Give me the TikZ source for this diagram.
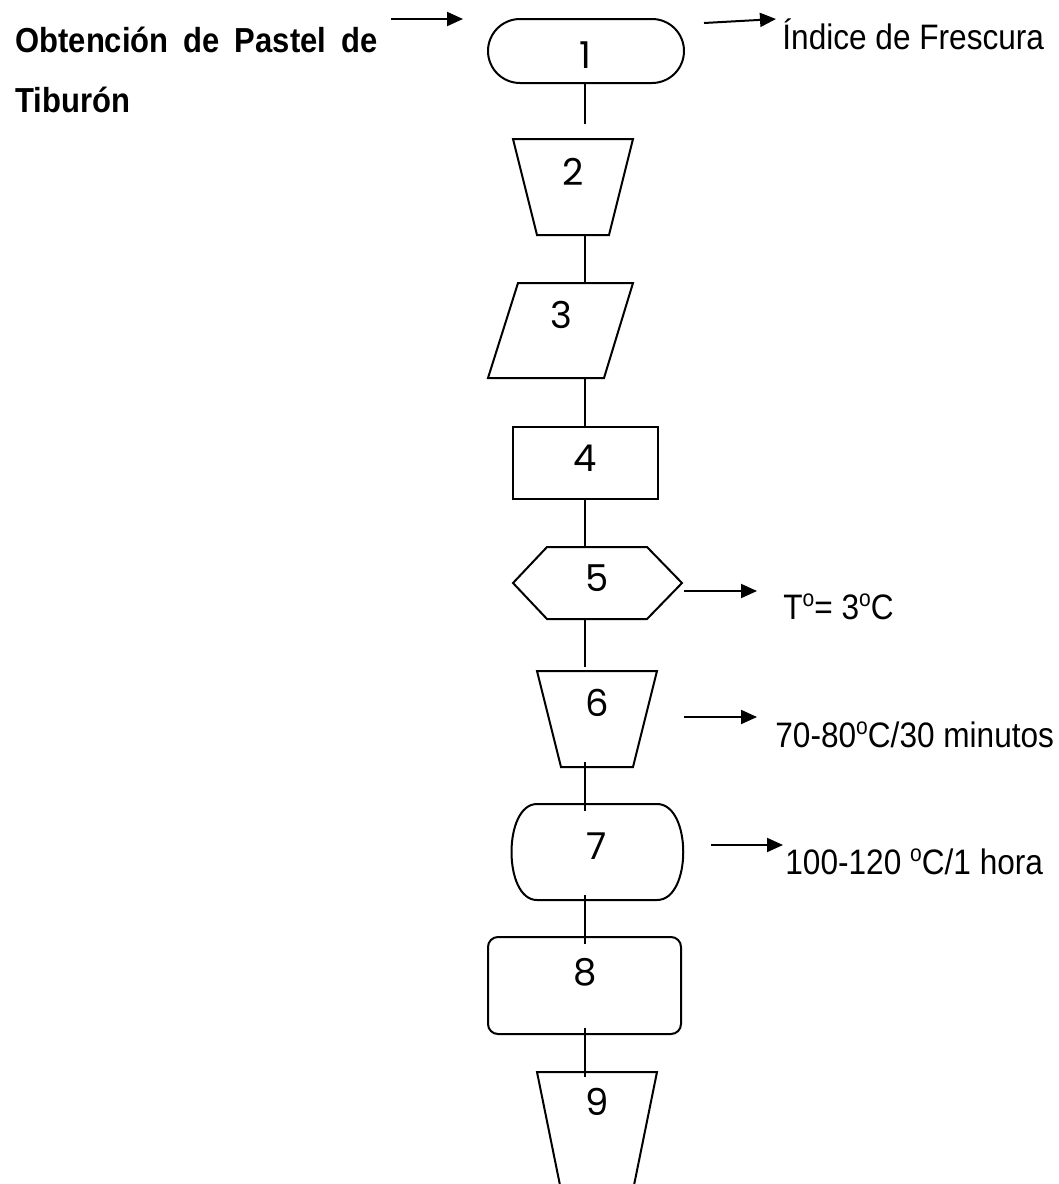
\documentclass[tikz,border=0pt]{standalone}
\usepackage{graphicx}
\usepackage{fontspec}
\setmainfont{Liberation Sans}
\newfontfamily\numfont{Poppins}
\usetikzlibrary{arrows.meta}
\newcommand\ordo{\raisebox{5.6pt}{\fontsize{10.5}{11}\selectfont o}}
\newcommand\vstr[1]{\scalebox{1}[1.12]{#1}}
\begin{document}
\begin{tikzpicture}[x=0.5pt,y=-0.5pt,
  shp/.style={draw=black, line width=1pt, line join=miter},
  conn/.style={draw=black, line width=1pt},
  arr/.style={draw=black, line width=1pt, -{Triangle[length=8pt,width=7pt]}},
  num/.style={font=\numfont\fontsize{18.5}{20}\selectfont, inner sep=0pt},
  lbl/.style={font=\fontsize{15.8}{18}\selectfont, inner sep=0pt, anchor=base west},
  ttl/.style={font=\bfseries\fontsize{15.5}{18}\selectfont, inner sep=0pt, anchor=base west}]
\clip (0,0) rectangle (1059,1184);
\fill[white] (0,0) rectangle (1059,1184);

% title
\node[ttl] (t1) at (15,52) {\vstr{\makebox[181pt][s]{Obtención de Pastel de}}};
\node[ttl] (t2) at (15,112) {\vstr{Tiburón}};

% shapes
\draw[shp, rounded corners=16pt] (488,19) rectangle (684,83);
\draw[shp] (513,139) -- (633,139) -- (609,235) -- (537,235) -- cycle;
\draw[shp] (518,283) -- (633,283) -- (604,378) -- (488,378) -- cycle;
\draw[shp] (513,427) rectangle (658,499);
\draw[shp] (513,583) -- (547,547) -- (647,547) -- (682,583) -- (647,619) -- (547,619) -- cycle;
\draw[shp] (537,671) -- (657,671) -- (633,767) -- (561,767) -- cycle;
\draw[shp] (537,804) -- (657,804) .. controls (692,804) and (692,900) .. (657,900) -- (537,900) .. controls (503,900) and (503,804) .. (537,804) -- cycle;
\draw[shp, rounded corners=5pt] (488,937) rectangle (681,1034);
\draw[shp] (537,1072) -- (657,1072) -- (631,1200) -- (563,1200) -- cycle;

% numbers
\node[num] (n1) at (585,55) {1};
\node[num] (n2) at (573,172) {2};
\node[num] (n3) at (561,315) {3};
\node[num] (n4) at (585,458) {4};
\node[num] (n5) at (597,578) {5};
\node[num] (n6) at (597,703) {6};
\node[num] (n7) at (597,846) {7};
\node[num] (n8) at (585,972) {8};
\node[num] (n9) at (597,1102) {9};

% connector ends
\coordinate (c1b) at (585,83);   \coordinate (c2t) at (585,124);
\coordinate (c2b) at (585,235);  \coordinate (c3t) at (585,283);
\coordinate (c3b) at (585,378);  \coordinate (c4t) at (585,427);
\coordinate (c4b) at (585,499);  \coordinate (c5t) at (585,547);
\coordinate (c5b) at (585,619);  \coordinate (c6t) at (585,667);
\coordinate (c6b) at (585,762);  \coordinate (c7t) at (585,811);
\coordinate (c7b) at (585,895);  \coordinate (c8t) at (585,944);
\coordinate (c8b) at (585,1028); \coordinate (c9t) at (585,1077);
\draw[conn] (c1b) -- (c2t);
\draw[conn] (c2b) -- (c3t);
\draw[conn] (c3b) -- (c4t);
\draw[conn] (c4b) -- (c5t);
\draw[conn] (c5b) -- (c6t);
\draw[conn] (c6b) -- (c7t);
\draw[conn] (c7b) -- (c8t);
\draw[conn] (c8b) -- (c9t);

% arrows
\coordinate (a1s) at (391,19);  \coordinate (a1e) at (463,19);
\coordinate (a2s) at (704,23);  \coordinate (a2e) at (776,19);
\coordinate (a3s) at (684,591); \coordinate (a3e) at (757,591);
\coordinate (a4s) at (684,717); \coordinate (a4e) at (757,717);
\coordinate (a5s) at (711,845); \coordinate (a5e) at (783,845);
\draw[arr] (a1s) -- (a1e);
\draw[arr] (a2s) -- (a2e);
\draw[arr] (a3s) -- (a3e);
\draw[arr] (a4s) -- (a4e);
\draw[arr] (a5s) -- (a5e);

% labels
\node[lbl] (l1) at (782,49) {\vstr{Índice de Frescura}};
\node[lbl] (l2) at (783,619) {\vstr{T\ordo= 3\ordo C}};
\node[lbl] (l3) at (775,747) {\vstr{70-80\ordo C/30 minutos}};
\node[lbl] (l4) at (785,874) {\vstr{100-120 \ordo C/1 hora}};
\end{tikzpicture}
\end{document}
